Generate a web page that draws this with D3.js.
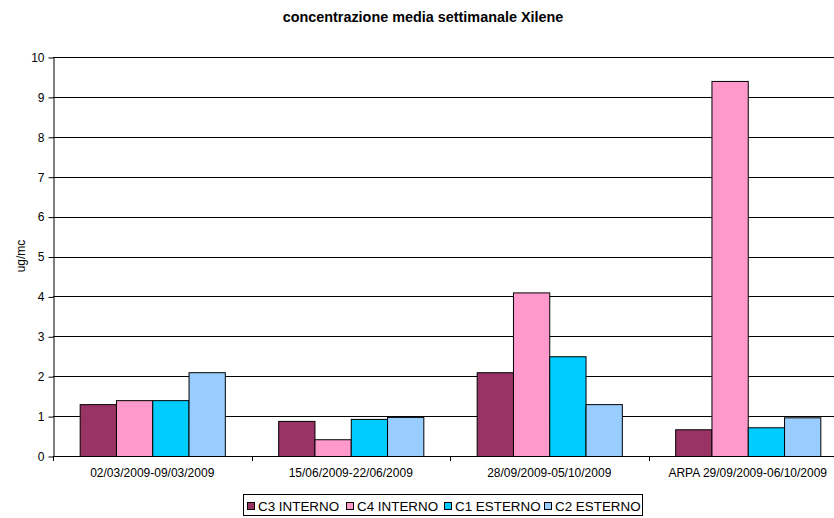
<!DOCTYPE html>
<html>
<head>
<meta charset="utf-8">
<script src="https://cdn.jsdelivr.net/npm/d3@7/dist/d3.min.js"></script>
<style>
  html, body { margin: 0; padding: 0; background: #fff; }
  svg { display: block; font-family: "Liberation Sans", Arial, sans-serif; }
</style>
</head>
<body>
<svg id="chart" width="834" height="518"></svg>
<script>
// Weekly mean xylene concentration (ug/mc) per sampling period
const periods = ["02/03/2009-09/03/2009", "15/06/2009-22/06/2009", "28/09/2009-05/10/2009", "ARPA 29/09/2009-06/10/2009"];
const seriesNames = ["C3 INTERNO", "C4 INTERNO", "C1 ESTERNO", "C2 ESTERNO"];
const seriesColors = ["#993366", "#FF99CC", "#00CCFF", "#99CCFF"];
const c3Interno = [1.3, 0.88, 2.1, 0.67];
const c4Interno = [1.4, 0.42, 4.1, 9.4];
const c1Esterno = [1.4, 0.93, 2.5, 0.72];
const c2Esterno = [2.1, 0.98, 1.3, 0.97];
const yTicks = [0, 1, 2, 3, 4, 5, 6, 7, 8, 9, 10];

const seriesValues = [c3Interno, c4Interno, c1Esterno, c2Esterno];
const rows = periods.map((p, i) => ({
  period: p,
  values: seriesNames.map((s, j) => ({ series: s, value: seriesValues[j][i], color: seriesColors[j] }))
}));

const svg = d3.select("#chart");
const plotLeft = 53, plotRight = 847, plotTop = 57, plotBottom = 456;

const x = d3.scaleBand().domain(periods).range([plotLeft, plotRight]).paddingInner(0).paddingOuter(0);
const xInner = d3.scaleBand().domain(seriesNames).range([0, x.bandwidth()]).paddingOuter(0.735).paddingInner(0);
const y = d3.scaleLinear().domain([0, 10]).range([plotBottom, plotTop]);

// Title
svg.append("text")
  .attr("x", 423).attr("y", 22)
  .attr("text-anchor", "middle")
  .attr("font-size", 14.4).attr("font-weight", "bold")
  .text("concentrazione media settimanale Xilene");

// Horizontal gridlines
svg.append("g")
  .selectAll("line")
  .data(yTicks.filter(d => d > 0))
  .join("line")
  .attr("x1", plotLeft).attr("x2", plotRight)
  .attr("y1", d => Math.round(y(d)) + 0.5).attr("y2", d => Math.round(y(d)) + 0.5)
  .attr("stroke", "#000").attr("stroke-width", 1);

// Y axis
const yAxis = svg.append("g")
  .attr("transform", `translate(${plotLeft + 0.5},0.5)`)
  .call(d3.axisLeft(y).tickValues(yTicks).tickSize(5).tickSizeOuter(0).tickFormat(d3.format("d")));
yAxis.select(".domain").attr("stroke", "#000");
yAxis.selectAll(".tick line").attr("stroke", "#000");
yAxis.selectAll(".tick text").attr("font-size", 12).attr("fill", "#000").attr("x", -9)
  .attr("font-family", "Liberation Sans, Arial, sans-serif");

// Y axis title
svg.append("text")
  .attr("transform", "translate(25,256) rotate(-90)")
  .attr("text-anchor", "middle")
  .attr("font-size", 12)
  .text("ug/mc");

// Bars
const groups = svg.append("g")
  .selectAll("g")
  .data(rows)
  .join("g")
  .attr("transform", d => `translate(${x(d.period)},0)`);

groups.selectAll("rect")
  .data(d => d.values)
  .join("rect")
  .attr("x", d => xInner(d.series) + 0.5)
  .attr("y", d => y(d.value) + 0.5)
  .attr("width", xInner.bandwidth())
  .attr("height", d => plotBottom - y(d.value))
  .attr("fill", d => d.color)
  .attr("stroke", "#000").attr("stroke-width", 1);

// X axis with category boundary ticks
svg.append("line")
  .attr("x1", plotLeft).attr("x2", plotRight)
  .attr("y1", plotBottom + 0.5).attr("y2", plotBottom + 0.5)
  .attr("stroke", "#000");
svg.append("g")
  .selectAll("line")
  .data(periods.concat(["end"]))
  .join("line")
  .attr("x1", (d, i) => Math.round(plotLeft + i * x.bandwidth()) + 0.5)
  .attr("x2", (d, i) => Math.round(plotLeft + i * x.bandwidth()) + 0.5)
  .attr("y1", plotBottom).attr("y2", plotBottom + 5)
  .attr("stroke", "#000");
svg.append("g")
  .selectAll("text")
  .data(periods)
  .join("text")
  .attr("x", d => x(d) + x.bandwidth() / 2)
  .attr("y", 477)
  .attr("text-anchor", "middle")
  .attr("font-size", 12)
  .text(d => d);

// Legend
const legend = svg.append("g");
legend.append("rect")
  .attr("x", 243.5).attr("y", 494.5)
  .attr("width", 399).attr("height", 21)
  .attr("fill", "#fff").attr("stroke", "#000");
const legendX = [247, 346, 444, 544];
const items = legend.selectAll("g")
  .data(seriesNames)
  .join("g")
  .attr("transform", (d, i) => `translate(${legendX[i]},502)`);
items.append("rect")
  .attr("x", 0.5).attr("y", 0.5)
  .attr("width", 7).attr("height", 7)
  .attr("fill", (d, i) => seriesColors[i])
  .attr("stroke", "#000");
items.append("text")
  .attr("x", 11).attr("y", 9)
  .attr("font-size", 13.4)
  .text(d => d);
</script>
</body>
</html>
